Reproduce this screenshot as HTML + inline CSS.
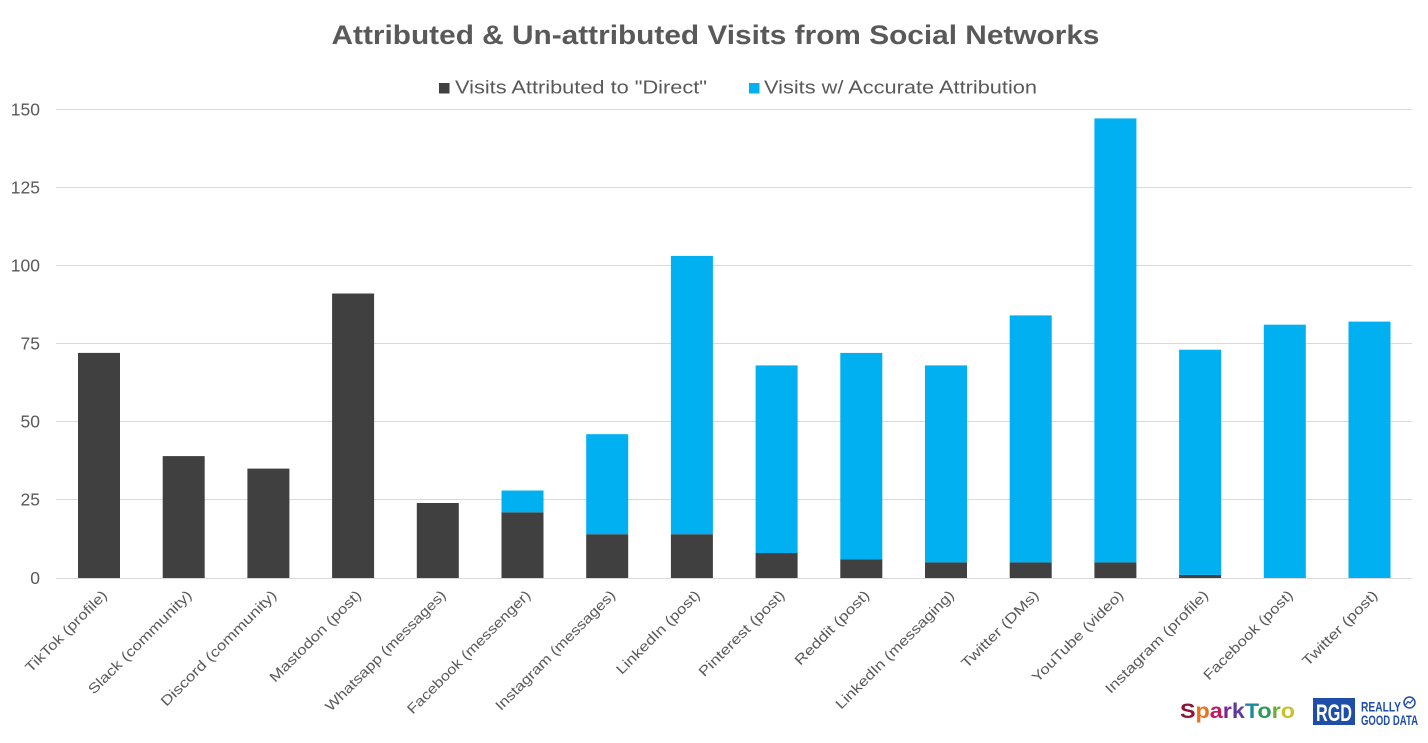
<!DOCTYPE html>
<html>
<head>
<meta charset="utf-8">
<style>
html,body{margin:0;padding:0;background:#fff;}
svg{display:block;}
text{font-family:"Liberation Sans",sans-serif;}
</style>
</head>
<body>
<svg width="1428" height="743" viewBox="0 0 1428 743" xmlns="http://www.w3.org/2000/svg">
<rect width="1428" height="743" fill="#fff"/>
<!-- Title -->
<text x="331.5" y="44" font-size="27" font-weight="bold" fill="#595959" textLength="768" lengthAdjust="spacingAndGlyphs">Attributed &amp; Un-attributed Visits from Social Networks</text>
<!-- Legend -->
<rect x="439" y="83" width="10.5" height="10.5" fill="#404040"/>
<text x="455" y="93.5" font-size="18.5" fill="#595959" textLength="252" lengthAdjust="spacingAndGlyphs">Visits Attributed to "Direct"</text>
<rect x="749" y="83" width="10.5" height="10.5" fill="#00b0f0"/>
<text x="764" y="93.5" font-size="18.5" fill="#595959" textLength="273" lengthAdjust="spacingAndGlyphs">Visits w/ Accurate Attribution</text>
<!-- Gridlines -->
<g stroke="#d9d9d9" stroke-width="1">
<line x1="56" y1="109.5" x2="1412" y2="109.5"/>
<line x1="56" y1="187.5" x2="1412" y2="187.5"/>
<line x1="56" y1="265.5" x2="1412" y2="265.5"/>
<line x1="56" y1="343.5" x2="1412" y2="343.5"/>
<line x1="56" y1="421.5" x2="1412" y2="421.5"/>
<line x1="56" y1="499.5" x2="1412" y2="499.5"/>
</g>
<!-- Y labels -->
<g font-size="17.5" fill="#595959" text-anchor="end">
<text x="40" y="115.5">150</text>
<text x="40" y="193.5">125</text>
<text x="40" y="271.5">100</text>
<text x="40" y="349.5">75</text>
<text x="40" y="427.5">50</text>
<text x="40" y="505.5">25</text>
<text x="40" y="584">0</text>
</g>
<!-- Dark bars -->
<g fill="#404040">
<rect x="78" y="352.9" width="42" height="225.1"/>
<rect x="162.7" y="456.1" width="42" height="121.9"/>
<rect x="247.4" y="468.6" width="42" height="109.4"/>
<rect x="332.1" y="293.5" width="42" height="284.5"/>
<rect x="416.8" y="503" width="42" height="75"/>
<rect x="501.5" y="512.3" width="42" height="65.7"/>
<rect x="586.2" y="534.2" width="42" height="43.8"/>
<rect x="670.9" y="534.2" width="42" height="43.8"/>
<rect x="755.6" y="553" width="42" height="25"/>
<rect x="840.3" y="559.2" width="42" height="18.8"/>
<rect x="925" y="562.4" width="42" height="15.6"/>
<rect x="1009.7" y="562.4" width="42" height="15.6"/>
<rect x="1094.4" y="562.4" width="42" height="15.6"/>
<rect x="1179.1" y="574.9" width="42" height="3.1"/>
</g>
<!-- Blue bars -->
<g fill="#00b0f0">
<rect x="501.5" y="490.5" width="42" height="21.8"/>
<rect x="586.2" y="434.2" width="42" height="100"/>
<rect x="670.9" y="255.9" width="42" height="278.3"/>
<rect x="755.6" y="365.4" width="42" height="187.6"/>
<rect x="840.3" y="352.9" width="42" height="206.3"/>
<rect x="925" y="365.4" width="42" height="197"/>
<rect x="1009.7" y="315.4" width="42" height="247"/>
<rect x="1094.4" y="118.4" width="42" height="444"/>
<rect x="1179.1" y="349.7" width="42" height="225.2"/>
<rect x="1263.8" y="324.7" width="42" height="253.3"/>
<rect x="1348.5" y="321.6" width="42" height="256.4"/>
</g>
<!-- Zero axis -->
<line x1="56" y1="578.5" x2="1412" y2="578.5" stroke="#d9d9d9" stroke-width="1"/>
<!-- X labels -->
<g font-size="14" fill="#595959" text-anchor="end">
<text transform="translate(108,596) rotate(-45)" textLength="109" lengthAdjust="spacingAndGlyphs">TikTok (profile)</text>
<text transform="translate(192.7,596) rotate(-45)" textLength="140" lengthAdjust="spacingAndGlyphs">Slack (community)</text>
<text transform="translate(277.4,596) rotate(-45)" textLength="157" lengthAdjust="spacingAndGlyphs">Discord (community)</text>
<text transform="translate(362.1,596) rotate(-45)" textLength="123" lengthAdjust="spacingAndGlyphs">Mastodon (post)</text>
<text transform="translate(446.8,596) rotate(-45)" textLength="164" lengthAdjust="spacingAndGlyphs">Whatsapp (messages)</text>
<text transform="translate(531.5,596) rotate(-45)" textLength="168" lengthAdjust="spacingAndGlyphs">Facebook (messenger)</text>
<text transform="translate(616.2,596) rotate(-45)" textLength="163" lengthAdjust="spacingAndGlyphs">Instagram (messages)</text>
<text transform="translate(700.9,596) rotate(-45)" textLength="112" lengthAdjust="spacingAndGlyphs">LinkedIn (post)</text>
<text transform="translate(785.6,596) rotate(-45)" textLength="115" lengthAdjust="spacingAndGlyphs">Pinterest (post)</text>
<text transform="translate(870.3,596) rotate(-45)" textLength="99" lengthAdjust="spacingAndGlyphs">Reddit (post)</text>
<text transform="translate(955,596) rotate(-45)" textLength="161" lengthAdjust="spacingAndGlyphs">LinkedIn (messaging)</text>
<text transform="translate(1039.7,596) rotate(-45)" textLength="103" lengthAdjust="spacingAndGlyphs">Twitter (DMs)</text>
<text transform="translate(1124.4,596) rotate(-45)" textLength="123" lengthAdjust="spacingAndGlyphs">YouTube (video)</text>
<text transform="translate(1209.1,596) rotate(-45)" textLength="139" lengthAdjust="spacingAndGlyphs">Instagram (profile)</text>
<text transform="translate(1293.8,596) rotate(-45)" textLength="120" lengthAdjust="spacingAndGlyphs">Facebook (post)</text>
<text transform="translate(1378.5,596) rotate(-45)" textLength="100" lengthAdjust="spacingAndGlyphs">Twitter (post)</text>
</g>
<!-- SparkToro logo -->
<text x="1180" y="718" font-size="21" font-weight="bold" textLength="115" lengthAdjust="spacingAndGlyphs"><tspan fill="#8a1538">S</tspan><tspan fill="#e8711c">p</tspan><tspan fill="#c2185b">a</tspan><tspan fill="#7b2a8f">r</tspan><tspan fill="#5e3a9e">k</tspan><tspan fill="#1e8aa0">T</tspan><tspan fill="#2e9a5a">o</tspan><tspan fill="#6cae3a">r</tspan><tspan fill="#c6c42a">o</tspan></text>
<!-- RGD logo -->
<rect x="1313" y="698" width="42" height="27" fill="#1f4ea8"/>
<text x="1334" y="721" font-size="24" font-weight="bold" fill="#fff" text-anchor="middle" textLength="36" lengthAdjust="spacingAndGlyphs">RGD</text>
<text x="1361" y="711.5" font-size="14" font-weight="bold" fill="#1f4ea8" textLength="40" lengthAdjust="spacingAndGlyphs">REALLY</text>
<text x="1361" y="725" font-size="14" font-weight="bold" fill="#1f4ea8" textLength="57" lengthAdjust="spacingAndGlyphs">GOOD DATA</text>
<circle cx="1409.5" cy="702.5" r="5.5" fill="#fff" stroke="#1f4ea8" stroke-width="1.5"/>
<path d="M1405.5 705 L1408 701.5 L1410 703 L1413 699.5" fill="none" stroke="#1f4ea8" stroke-width="1.2"/>
</svg>
</body>
</html>
